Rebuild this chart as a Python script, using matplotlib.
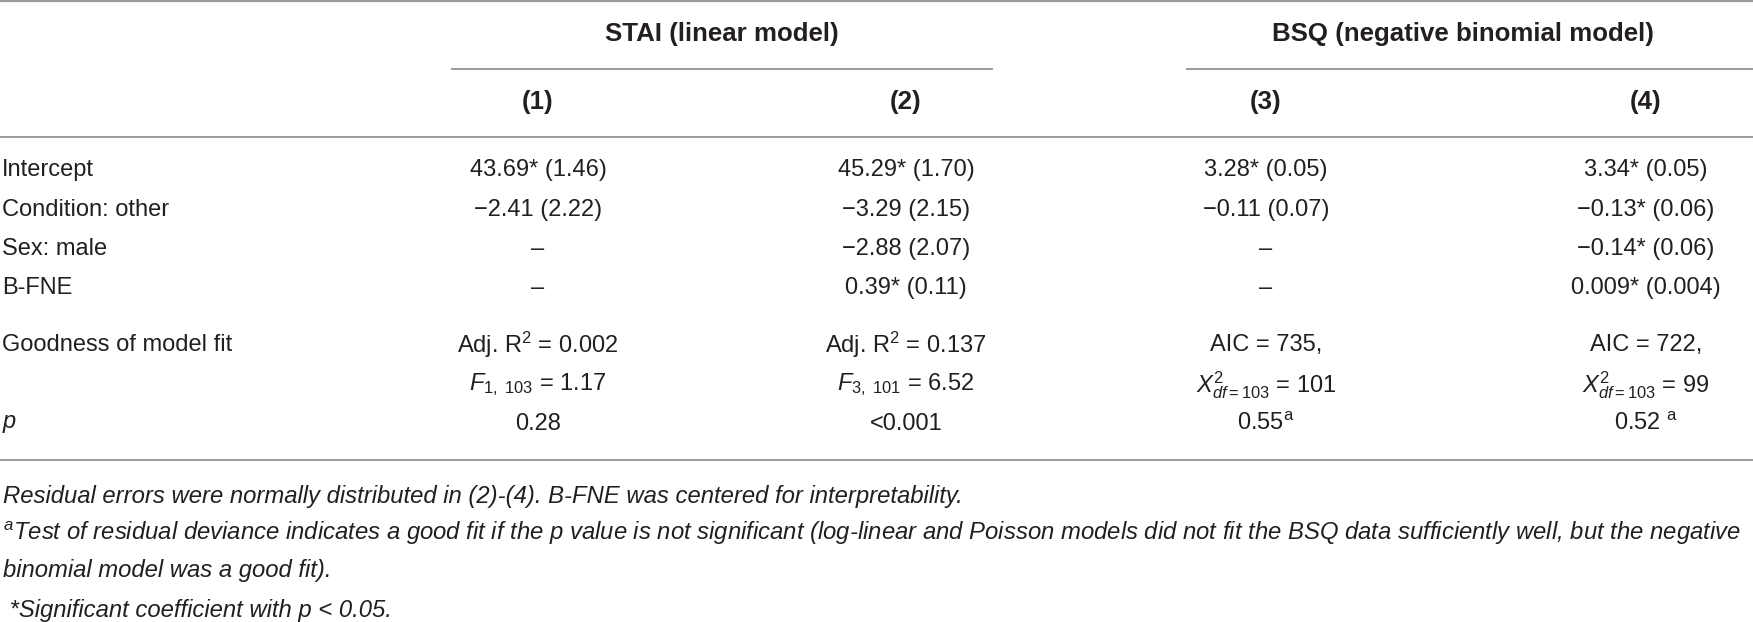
import matplotlib
matplotlib.use("Agg")
import matplotlib.pyplot as plt

plt.rcParams['font.family'] = ['Liberation Sans', 'DejaVu Sans']
plt.rcParams['mathtext.fontset'] = 'custom'
plt.rcParams['mathtext.rm'] = 'Liberation Sans'
plt.rcParams['mathtext.it'] = 'Liberation Sans:italic'
plt.rcParams['mathtext.bf'] = 'Liberation Sans:bold'

# table content
group_titles = ["STAI (linear model)", "BSQ (negative binomial model)"]
model_labels = ["(1)", "(2)", "(3)", "(4)"]
row_labels = ["Intercept", "Condition: other", "Sex: male", "B-FNE",
              "Goodness of model fit", "", "$p$"]
model1 = ["43.69* (1.46)", "\u22122.41 (2.22)", "\u2013", "\u2013",
          "Adj. R$^2$ = 0.002", "$F_{1,\\ 103}$ = 1.17", "0.28"]
model2 = ["45.29* (1.70)", "\u22123.29 (2.15)", "\u22122.88 (2.07)", "0.39* (0.11)",
          "Adj. R$^2$ = 0.137", "$F_{3,\\ 101}$ = 6.52", "<0.001"]
model3 = ["3.28* (0.05)", "\u22120.11 (0.07)", "\u2013", "\u2013",
          "AIC = 735,", "$X^{2}_{df=103}$ = 101", "0.55$^{\\mathrm{a}}$"]
model4 = ["3.34* (0.05)", "\u22120.13* (0.06)", "\u22120.14* (0.06)", "0.009* (0.004)",
          "AIC = 722,", "$X^{2}_{df=103}$ = 99", "0.52 $^{\\mathrm{a}}$"]
footnotes = [
    "Residual errors were normally distributed in (2)-(4). B-FNE was centered for interpretability.",
    "$^{a}$Test of residual deviance indicates a good fit if the p value is not significant (log-linear and Poisson models did not fit the BSQ data sufficiently well, but the negative",
    "binomial model was a good fit).",
    " *Significant coefficient with p < 0.05.",
]

W, H = 1753, 622
fig = plt.figure(figsize=(W / 100, H / 100), dpi=100)
ax = fig.add_axes([0, 0, 1, 1])
ax.set_xlim(0, W)
ax.set_ylim(H, 0)
ax.axis('off')

ink = '#231f20'
rule = '#9a9a9a'
fs = 17
fs_head = 18.6
col_x = [538, 906, 1266, 1646]
row_y = [170, 210, 249, 288, 345, 385, 424]

# rules
ax.plot([0, W], [1, 1], color=rule, lw=1.6)
ax.plot([452, 992], [69, 69], color=rule, lw=1.4)
ax.plot([1187, W], [69, 69], color=rule, lw=1.4)
ax.plot([0, W], [137, 137], color=rule, lw=1.4)
ax.plot([0, W], [460, 460], color=rule, lw=1.4)

# headers
ax.text(722, 34, group_titles[0], ha='center', va='center', fontsize=fs_head, fontweight='bold', color=ink)
ax.text(1463, 34, group_titles[1], ha='center', va='center', fontsize=fs_head, fontweight='bold', color=ink)
for x, lab in zip(col_x, model_labels):
    ax.text(x, 102, lab, ha='center', va='center', fontsize=fs_head, fontweight='bold', color=ink)

# body
for y, lab in zip(row_y, row_labels):
    ax.text(2, y, lab, ha='left', va='center', fontsize=fs, color=ink)
for x, col in zip(col_x, [model1, model2, model3, model4]):
    for y, val in zip(row_y, col):
        ax.text(x, y, val, ha='center', va='center', fontsize=fs, color=ink)

# footnotes
for y, note in zip([496, 533, 571, 610], footnotes):
    ax.text(3, y, note, ha='left', va='center', fontsize=17.2, style='italic', color=ink)

fig.savefig('out.png', dpi=100)
